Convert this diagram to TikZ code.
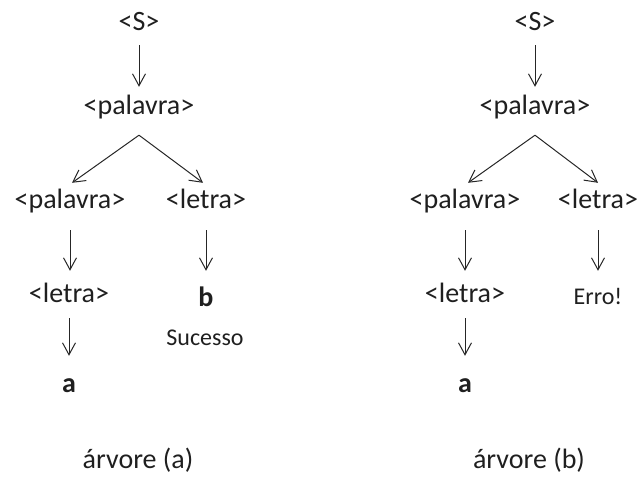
\documentclass[tikz,border=0pt]{standalone}
\usepackage{fontspec}
\setmainfont{Carlito}
\usetikzlibrary{arrows.meta,calc}
\begin{document}
\begin{tikzpicture}[x=1pt,y=-1pt,
  lbl/.style={inner sep=0pt, anchor=base, text=black!88, font=\fontsize{28}{33}\selectfont, text height=19pt, text depth=6pt},
  small/.style={lbl, font=\fontsize{24}{29}\selectfont},
  bld/.style={lbl, font=\fontsize{28}{33}\selectfont\bfseries},
  arr/.style={draw=black!85, line width=1pt, -{Straight Barb[length=12pt,width=13pt]}}
]
\useasboundingbox (0,0) rectangle (638,477);
% ---------- tree (a)
\node[lbl] (aS) at (139,30) {<S>};
\node[lbl] (aP) at (139,114) {<palavra>};
\node[lbl] (aL2) at (70,208) {<palavra>};
\node[lbl] (aR2) at (206,208) {<letra>};
\node[lbl] (aL3) at (69,302) {<letra>};
\node[bld] (ab) at (206,306) {b};
\node[small] (asuc) at (205,345) {Sucesso};
\node[bld] (aa) at (69,392) {a};
\node[lbl] (acap) at (138,468) {árvore (a)};
\coordinate (aapex) at ($(aP.south)+(0,15)$);
\coordinate (atipL) at ($(aL2.north)+(2,-6)$);
\coordinate (atipR) at ($(aR2.north)+(-3,-6)$);
\draw[arr, shorten <=9pt, shorten >=8pt] (aS.south) -- (aP.north);
\draw[arr] (aapex) -- (atipL);
\draw[arr] (aapex) -- (atipR);
\draw[arr, shorten <=16pt, shorten >=12pt] (aL2.south) -- (aL2.south |- aL3.north);
\draw[arr, shorten <=16pt, shorten >=16pt] (aR2.south) -- (aR2.south |- ab.north);
\draw[arr, shorten <=10pt, shorten >=17pt] (aL3.south) -- (aL3.south |- aa.north);
% ---------- tree (b)
\node[lbl] (bS) at (535,30) {<S>};
\node[lbl] (bP) at (535,114) {<palavra>};
\node[lbl] (bL2) at (465,208) {<palavra>};
\node[lbl] (bR2) at (598,208) {<letra>};
\node[lbl] (bL3) at (465,302) {<letra>};
\node[small] (berr) at (598,304) {Erro!};
\node[bld] (ba) at (465,392) {a};
\node[lbl] (bcap) at (529,468) {árvore (b)};
\coordinate (bapex) at ($(bP.south)+(0,15)$);
\coordinate (btipL) at ($(bL2.north)+(3,-6)$);
\coordinate (btipR) at ($(bR2.north)+(0,-6)$);
\draw[arr, shorten <=9pt, shorten >=8pt] (bS.south) -- (bP.north);
\draw[arr] (bapex) -- (btipL);
\draw[arr] (bapex) -- (btipR);
\draw[arr, shorten <=16pt, shorten >=12pt] (bL2.south) -- (bL2.south |- bL3.north);
\draw[arr, shorten <=16pt, shorten >=14pt] (bR2.south) -- (bR2.south |- berr.north);
\draw[arr, shorten <=10pt, shorten >=17pt] (bL3.south) -- (bL3.south |- ba.north);
\end{tikzpicture}
\end{document}
